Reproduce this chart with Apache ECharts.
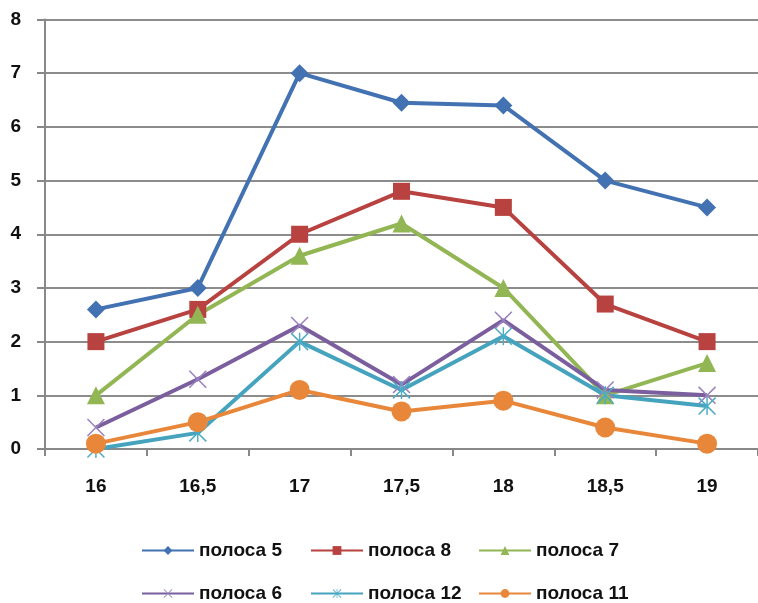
<!DOCTYPE html>
<html>
<head>
<meta charset="utf-8">
<script src="https://cdn.jsdelivr.net/npm/echarts@6/dist/echarts.min.js"></script>
<style>
  html, body { margin: 0; padding: 0; background: #fff; }
  #chart { width: 758px; height: 603px; }
</style>
</head>
<body>
<div id="chart"></div>
<script>
// Distance values along the x axis
const categories = ['16', '16,5', '17', '17,5', '18', '18,5', '19'];

// Measured values per strip
const polosa5  = [2.6, 3.0, 7.0, 6.45, 6.4, 5.0, 4.5];
const polosa8  = [2.0, 2.6, 4.0, 4.8, 4.5, 2.7, 2.0];
const polosa7  = [1.0, 2.5, 3.6, 4.2, 3.0, 1.0, 1.6];
const polosa6  = [0.4, 1.3, 2.3, 1.2, 2.4, 1.1, 1.0];
const polosa12 = [0.0, 0.3, 2.0, 1.1, 2.1, 1.0, 0.8];
const polosa11 = [0.1, 0.5, 1.1, 0.7, 0.9, 0.4, 0.1];

const yTicks = { min: 0, max: 8, interval: 1 };

// Thin cross and asterisk marker outlines
const crossPath = 'path://M0,1.2 L1.2,0 L10,8.8 L18.8,0 L20,1.2 L11.2,10 L20,18.8 L18.8,20 L10,11.2 L1.2,20 L0,18.8 L8.8,10 Z';
const starPath = crossPath + ' M9.2,0 L10.8,0 L10.8,20 L9.2,20 Z';

const FONT = '"Liberation Sans", Arial, sans-serif';
const FONT_SIZE = 19;

function line(name, data, color, symbol, size, symColor) {
  return {
    name: name,
    type: 'line',
    data: data,
    symbol: symbol,
    symbolSize: size,
    showAllSymbol: true,
    lineStyle: { color: color, width: 4 },
    itemStyle: { color: symColor || color, borderWidth: 0 },
    emphasis: { disabled: true },
    animation: false,
    z: 2
  };
}

const series = [
  line('полоса 5', polosa5, '#4372B2', 'diamond', 18),
  line('полоса 8', polosa8, '#B8423F', 'rect', 17),
  line('полоса 7', polosa7, '#93B655', 'triangle', 18),
  line('полоса 6', polosa6, '#7A5E9E', crossPath, 18, '#9A82BE'),
  line('полоса 12', polosa12, '#45A3BD', starPath, 18, '#4BACC6'),
  line('полоса 11', polosa11, '#E8873A', 'circle', 20)
];

// One legend block per entry so the columns sit at fixed positions
const legendCols = [141, 310, 478];
const legendRows = [541, 584];
const legends = series.map((s, i) => ({
  data: [s.name],
  left: legendCols[i % 3],
  top: legendRows[Math.floor(i / 3)],
  padding: 0,
  itemWidth: 52,
  itemHeight: 11,
  textStyle: { fontFamily: FONT, fontWeight: 'bold', fontSize: FONT_SIZE, color: '#111' },
  selectedMode: false
}));

const chart = echarts.init(document.getElementById('chart'), null, { renderer: 'canvas' });
chart.setOption({
  backgroundColor: '#fff',
  animation: false,
  grid: { left: 45, right: -4, top: 19.5, bottom: 154 },
  legend: legends,
  xAxis: {
    type: 'category',
    data: categories,
    boundaryGap: true,
    axisLine: { lineStyle: { color: '#888', width: 2 } },
    axisTick: { show: true, length: 7, lineStyle: { color: '#888', width: 2 } },
    axisLabel: { margin: 28, fontFamily: FONT, fontWeight: 'bold', fontSize: FONT_SIZE, color: '#111' },
    splitLine: { show: false }
  },
  yAxis: {
    type: 'value',
    min: yTicks.min,
    max: yTicks.max,
    interval: yTicks.interval,
    axisLine: { show: true, lineStyle: { color: '#888', width: 2 } },
    axisTick: { show: true, length: 8, lineStyle: { color: '#888', width: 2 } },
    axisLabel: { margin: 24, fontFamily: FONT, fontWeight: 'bold', fontSize: FONT_SIZE, color: '#111' },
    splitLine: { lineStyle: { color: '#8c8c8c', width: 2 } }
  },
  series: series
});
</script>
</body>
</html>
